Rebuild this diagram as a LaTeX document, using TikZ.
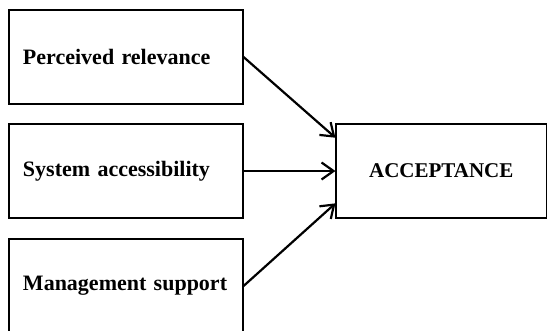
\documentclass[tikz,border=0pt]{standalone}
\usepackage{fontspec}
\setmainfont{Liberation Serif}
\usetikzlibrary{arrows.meta,calc}
\begin{document}
\begin{tikzpicture}[x=1pt,y=-1pt,
    factor/.style={draw,line width=1.1pt,minimum width=234pt,minimum height=94pt,
      inner xsep=14pt,text width=206pt,align=left,
      font=\fontsize{22}{26}\selectfont\bfseries},
    outcome/.style={draw,line width=1.1pt,minimum width=210.5pt,minimum height=94pt,
      align=center,font=\fontsize{21}{25}\selectfont\bfseries},
    link/.style={line width=2.2pt,-{Straight Barb[length=12pt,width=17pt,line width=2.2pt]}}]
% Fixing the page size
\useasboundingbox (0,0) rectangle (547,330);

% Drawing the three factor boxes
\node[factor] (relevance) at (126,57) {\mbox{Perceived relevance}};
\node[factor] (access) at (126,171) {\mbox{System accessibility}};
\node[factor] (support) at (126,286) {\mbox{Management support}};

% Drawing the acceptance box
\node[outcome] (accept) at (441.25,171) {ACCEPTANCE};

% Drawing the arrows
\draw[link] (relevance.east) -- ($(accept.north west)!0.15!(accept.south west)$);
\draw[link] (access.east) -- (accept.west);
\draw[link] (support.east) -- ($(accept.north west)!0.84!(accept.south west)$);
\end{tikzpicture}
\end{document}
